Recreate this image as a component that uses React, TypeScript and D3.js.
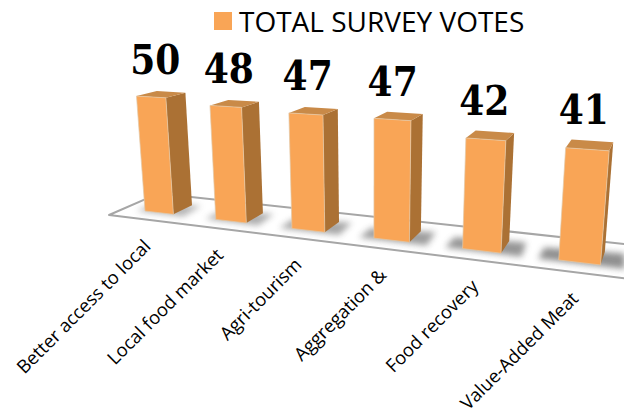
import React from "react";
import * as d3 from "d3";

const categories = [
  "Better access to local",
  "Local food market",
  "Agri-tourism",
  "Aggregation &",
  "Food recovery",
  "Value-Added Meat",
];
const votes = [50, 48, 47, 47, 42, 41];
const seriesName = "TOTAL SURVEY VOTES";

const WIDTH = 624;
const HEIGHT = 418;

// Category band along the floor's long axis, and value to height.
const bandScale = d3.scaleBand<string>().domain(categories).range([0, 5.41]).paddingInner(0.59).paddingOuter(0);
const heightScale = d3.scaleLinear().domain([0, 50]).range([0, 1]);

// Perspective camera: floor axis u, depth v, normalised height h to screen pixels.
type P3 = [number, number, number];
const project = ([u, v, h]: P3): [number, number] => {
  const w = 1 - 0.0348 * u + 0.0359 * v - 0.0361 * h;
  return [
    (145 + 63.3 * u + 25.2 * v - 13.43 * h) / w,
    (211 + 0.75 * u - 1.54 * v - 118.4 * h) / w,
  ];
};

const polygon = d3.line<P3>().x((p) => project(p)[0]).y((p) => project(p)[1]);
const face = (pts: P3[]) => polygon(pts) + "Z";

const FLOOR = { left: -0.311, right: 7, front: -0.709, back: 1.8 };

const COLORS = {
  front: "#F9A556",
  side: "#AB7134",
  top: "#C98A48",
  edge: "#E3C9A8",
  floor: "#A6A6A6",
  shadow: "#6a6a6a",
  text: "#000000",
};

export default function App() {
  const bw = bandScale.bandwidth();
  const bars = categories.map((name, i) => {
    const u0 = bandScale(name) as number;
    const u1 = u0 + bw;
    const h = heightScale(votes[i]);
    const labelAnchor = project([u0 + bw / 2, 0.5, h]);
    const tickAnchor = project([u0 + bw / 2, FLOOR.front, 0]);
    return { name, value: votes[i], u0, u1, h, labelAnchor, tickAnchor };
  });

  return (
    <svg
      width={WIDTH}
      height={HEIGHT}
      viewBox={`0 0 ${WIDTH} ${HEIGHT}`}
      style={{ position: "absolute", left: 0, top: 0, background: "#fff" }}
    >
      <defs>
        <filter id="floor-shadow" x="-60%" y="-100%" width="220%" height="300%">
          <feGaussianBlur stdDeviation="3.4" />
        </filter>
      </defs>

      <path
        d={face([
          [FLOOR.left, FLOOR.front, 0],
          [FLOOR.left, FLOOR.back, 0],
          [FLOOR.right, FLOOR.back, 0],
          [FLOOR.right, FLOOR.front, 0],
        ])}
        fill="#fff"
        stroke={COLORS.floor}
        strokeWidth={2}
        strokeLinejoin="round"
      />

      {/* Soft contact shadows; they spread wider towards the near end of the floor */}
      {bars.map((b, i) => (
        <path
          key={`shadow-${b.name}`}
          d={face([
            [b.u0 - 0.1 - i * 0.02, -0.08, 0],
            [b.u0 - 0.1 - i * 0.02, 0.8, 0],
            [b.u1 + 0.12 + i * 0.015, 1.05, 0],
            [b.u1 + 0.16 + i * 0.015, -0.08, 0],
          ])}
          fill={COLORS.shadow}
          opacity={0.5 + i * 0.05}
          filter="url(#floor-shadow)"
        />
      ))}

      {bars.map((b) => (
        <g key={b.name}>
          <path
            d={face([
              [b.u1, 0, 0],
              [b.u1, 1, 0],
              [b.u1, 1, b.h],
              [b.u1, 0, b.h],
            ])}
            fill={COLORS.side}
          />
          <path
            d={face([
              [b.u0, 0, b.h],
              [b.u0, 1, b.h],
              [b.u1, 1, b.h],
              [b.u1, 0, b.h],
            ])}
            fill={COLORS.top}
          />
          <path
            d={face([
              [b.u0, 0, 0],
              [b.u0, 0, b.h],
              [b.u1, 0, b.h],
              [b.u1, 0, 0],
            ])}
            fill={COLORS.front}
            stroke={COLORS.edge}
            strokeWidth={0.7}
          />
        </g>
      ))}

      {bars.map((b) => (
        <text
          key={`value-${b.name}`}
          transform={`translate(${b.labelAnchor[0] - 6},${b.labelAnchor[1] - 20.5}) scale(1.06,1.18)`}
          textAnchor="middle"
          fontFamily="'DejaVu Serif', serif"
          fontWeight={700}
          fontSize={34}
          fill={COLORS.text}
        >
          {b.value}
        </text>
      ))}

      {bars.map((b, i) => (
        <text
          key={`tick-${b.name}`}
          transform={`translate(${b.tickAnchor[0] + 7 - i * 0.6},${b.tickAnchor[1] + 28 - i * 0.1}) rotate(-45)`}
          textAnchor="end"
          fontFamily="'Open Sans', sans-serif"
          fontSize={18.4}
          fill={COLORS.text}
        >
          {b.name}
        </text>
      ))}

      <rect x={214} y={12} width={18} height={18} fill={COLORS.front} />
      <text x={239} y={32} fontFamily="'Open Sans', sans-serif" fontSize={28} fill={COLORS.text}>
        {seriesName}
      </text>
    </svg>
  );
}
